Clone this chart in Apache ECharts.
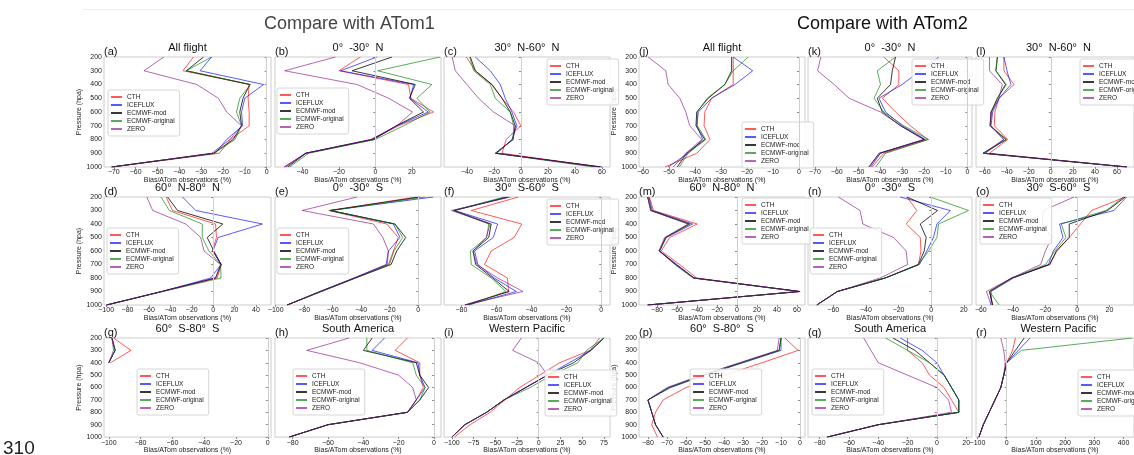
<!DOCTYPE html>
<html>
<head>
<meta charset="utf-8">
<script src="https://cdn.jsdelivr.net/npm/echarts@6/dist/echarts.min.js"></script>
<style>
  html, body { margin: 0; padding: 0; background: #fff; }
  #chart { width: 1134px; height: 455px; }
</style>
</head>
<body>
<div id="chart"></div>
<script>
// 气压层 (hPa)，每个面板的每条线都按这个顺序
var levels = [200, 300, 400, 500, 600, 700, 800, 900, 1000];
var seriesNames = ['CTH', 'ICEFLUX', 'ECMWF-mod', 'ECMWF-original', 'ZERO'];

// ---- ATom1 ----  每个数组的行顺序同 seriesNames
var biasA = [
  [-33.5, -38.3, -8, -8.5, -8, -8, -16.5, -21.7, -71],
  [-25.2, -30.5, -1.4, -10, -11.5, -11, -18.3, -23.6, -71],
  [-28.9, -36.8, -7.7, -10.8, -12.3, -11.5, -15.3, -24.4, -71],
  [-25.2, -36.8, -7.4, -12.3, -13.8, -11.5, -14.5, -24, -71],
  [-47.1, -56.2, -32, -22.1, -18.3, -11.5, -16.8, -25.2, -71]
];
var ticksA = [-70, -60, -50, -40, -30, -20, -10, 0];

var biasB = [
  [-8.2, -20, 18.2, 19.5, 31.9, 12.8, -2, -38, -50],
  [0.9, -19, 21, 19, 29, 11.8, -2, -38.5, -49],
  [9.1, -12.7, 21.9, 18.7, 26.4, 11.5, -1, -38, -48],
  [35.5, 1.3, 31, 22.8, 30, 15.5, 0, -36.5, -47],
  [-21.9, -49.7, -10, 7.3, 20.4, 11.8, -2.5, -38, -50]
];
var ticksB = [-40, -20, 0, 20];

var biasC = [
  [-40.5, -33.8, -21.5, -14, -5.5, 0, -10.9, -14, 58.7],
  [-33.8, -22.7, -15.3, -11.6, -6.7, -3, -6.7, -17.8, 57.5],
  [-37.5, -33.8, -21.5, -14, -7.9, -4.2, -5.9, -19, 60],
  [-38, -35, -22.7, -19, -7.9, -5.4, -5.9, -19, 53.8],
  [-51, -48.6, -40, -31.4, -20.3, -4.2, -5.9, -18.3, 58.7]
];
var ticksC = [-40, -20, 0, 20, 40, 60];

var biasD = [
  [-44, -38, 2.2, 3.1, -0.9, 7.7, 3.7, -48, -99.6],
  [-28.7, -16.3, 46, 4.6, -0.3, 7.4, -2.4, -48, -99.6],
  [-42.6, -33.3, 9, -5.6, 0.6, 7.4, 2.2, -48, -99.6],
  [-48.7, -41, -10.2, -10.2, -4, 6.8, 7.4, -47, -99.6],
  [-62, -56.5, -25.6, -11.7, -8.6, 6.8, 2.2, -48, -99.6]
];
var ticksD = [-100, -80, -60, -40, -20, 0, 20, 40];

var biasE = [
  [-1.2, -62.8, -22, -14, -17.4, -20.9, -44.6, -68.6, -91.8],
  [10.5, -61.6, -17.4, -12.8, -20.9, -22.5, -45, -69, -92],
  [1.2, -61.6, -16.3, -8.8, -15.1, -19, -44, -68, -92],
  [4.7, -61.6, -16.3, -10.9, -17, -20.2, -44, -68, -92],
  [-43, -81.4, -31.4, -24.8, -20.9, -21.7, -45, -69, -92]
];
var ticksE = [-100, -80, -60, -40, -20, 0];

var biasF = [
  [-47.5, -74.4, -45.5, -49.9, -63, -66.8, -53.7, -53, -77.2],
  [-54.2, -83.8, -59.3, -61.8, -72.5, -70.6, -61.2, -48.6, -76.3],
  [-53.1, -84.4, -63, -64.4, -73.4, -71.9, -62.1, -52.7, -78.1],
  [-55.5, -84.7, -64.4, -65.5, -74.9, -74.4, -63, -54.6, -75.7],
  [-51.8, -85.7, -63.6, -65.9, -73.4, -71.2, -59.3, -44.8, -78.1]
];
var ticksF = [-80, -60, -40, -20, 0];

var biasG = [
  [-97, -86, -99, null, null, null, null, null, null],
  [-98, -96, -100, null, null, null, null, null, null],
  [-98, -96, -100, null, null, null, null, null, null],
  [-98, -96, -100, null, null, null, null, null, null],
  [-98, -97, -100, null, null, null, null, null, null]
];
var ticksG = [-100, -80, -60, -40, -20, 0];

var biasH = [
  [-15, -22, -8, -8, -6, -10, -15, -60, -82],
  [-28, -35, -9, -8, -5, -10, -15, -60, -82],
  [-35, -40, -10, -8, -3, -8, -15, -60, -82],
  [-38, -38, -12, -10, -5, -8, -15, -60, -82],
  [-48, -72, -42, -20, -12, -10, -15, -60, -82]
];
var ticksH = [-80, -60, -40, -20, 0];

var biasI = [
  [70, 59, 24, 1, -22, -39, -56, -79, -97],
  [75, 60, 35, 10, -15, -40, -60, -85, -100],
  [75, 60, 40, 10, -15, -40, -60, -85, -100],
  [75, 55, 45, 15, -10, -40, -60, -85, -100],
  [-20, -30, 0, 10, -15, -40, -60, -85, -100]
];
var ticksI = [-100, -75, -50, -25, 0, 25, 50, 75];

// ---- ATom2 ----
var biasJ = [
  [-25.3, -25.3, -25.3, -33.6, -36.2, -36.5, -34.2, -39.3, -51.5],
  [-25.3, -17.8, -24.6, -33.6, -38.7, -39.3, -37, -42.6, -50.3],
  [-25.9, -25.9, -28.5, -34.9, -39.3, -39.6, -36.2, -43.2, -46.8],
  [-19.5, -25.3, -28.5, -35.3, -39.1, -39.1, -35.8, -42.6, -46],
  [-58, -51.2, -50.3, -45.8, -43.5, -42, -37.4, -43.5, -48.3]
];
var ticksJ = [-60, -50, -40, -30, -20, -10, 0];

var biasK = [
  [-38.4, -31.5, -31.5, -39.1, -33, -26.2, -18.3, -38.4, -43.7],
  [-13.2, -21.6, -30, -40.6, -37.6, -30, -19.3, -39.9, -44.4],
  [-33, -34.5, -35.3, -41.4, -39.1, -30.7, -19.8, -40.6, -45.2],
  [-33, -41.4, -39.9, -42.9, -38.4, -29.2, -17.8, -37.6, -42.1],
  [-67.3, -68.8, -61.2, -54.3, -39.9, -30.7, -20.1, -39.9, -45.2]
];
var ticksK = [-70, -60, -50, -40, -30, -20, -10, 0];

var biasL = [
  [-42.5, -42.5, -33.3, -46.9, -50.7, -51.2, -39, -55.6, 69],
  [-42.5, -39.7, -36.2, -46.9, -52.7, -54.2, -42.5, -59.4, 69],
  [-48.4, -49.8, -41.1, -48.4, -54.2, -55, -40.3, -61.4, 69],
  [-48.4, -49.8, -40.3, -48.4, -53.6, -55, -40.3, -60.5, 68],
  [-55.6, -55.6, -44, -46.9, -54.2, -55, -42.5, -61.4, 69]
];
var ticksL = [-60, -40, -20, 0, 20, 40, 60];

var biasM = [
  [-87.6, -83.5, -39.8, -67.4, -75.8, -57.3, -40.4, 63.2, -89.3],
  [-88.2, -84.8, -44.4, -70.7, -77.5, -60, -43.1, 62.6, -89.3],
  [-89.3, -85.9, -47.2, -71.4, -77.5, -61.3, -43.1, 62.6, -89.3],
  [-89.3, -85.9, -48, -71.4, -77.5, -62.3, -44.1, 61.2, -89.3],
  [-89.3, -86.5, -48.9, -72.4, -78.2, -61.3, -43.1, 62.6, -89.3]
];
var ticksM = [-80, -60, -40, -20, 0, 20, 40, 60];

var biasN = [
  [-14.9, -8.8, -15.3, -6.7, -6.3, -7.8, -28.2, -57.5, -70.1],
  [-19, 11.7, 3.5, 1.4, -2.7, -7.2, -28.2, -57.5, -70.1],
  [-14.9, 3.9, -6.7, -3.1, -4.3, -7.8, -28.2, -57.5, -70.1],
  [-0.6, 22.9, 4.5, 3.5, -1.6, -7.8, -28.2, -57.5, -70.1],
  [-56.9, -43.6, -41.9, -23.1, -15.3, -14.5, -31.3, -57.5, -70.1]
];
var ticksN = [-60, -40, -20, 0, 20];

var biasO = [
  [29.8, 8.9, 2, -5, -12.9, -16.9, -40.7, -54.6, -52.6],
  [30.7, 22.8, -11, -8.9, -14.9, -17.9, -39.7, -53.6, -53.6],
  [29.8, 18.8, -5, -5, -12.9, -17.3, -40.7, -54.6, -52.6],
  [28.8, 17.9, -9.9, -7, -13.9, -19.8, -40.7, -54.6, -48.6],
  [-2, -21.2, -21.8, -15.9, -19.8, -22.8, -40.7, -56.5, -53.6]
];
var ticksO = [-60, -40, -20, 0, 20];

var biasP = [
  [-8, -1, -20, -40, -60, -72, -76, -78, -75],
  [-10, -10, -30, -50, -68, -80, -78, -76, -72],
  [-10, -11, -31, -51, -69, -80, -78, -76, -72],
  [-10, -11, -31, -51, -69, -80, -78, -76, -72],
  [-11, -12, -32, -52, -70, -80, -78, -76, -72]
];
var ticksP = [-80, -70, -60, -50, -40, -30, -20, -10, 0];

var biasQ = [
  [-20, -20, -10, -5, 5, 10, 15, -40, -75],
  [-25, -10, 0, 5, 10, 15, 15, -40, -75],
  [-30, -15, -5, 5, 10, 15, 15, -40, -75],
  [-35, -20, -5, 5, 10, 15, 15, -40, -75],
  [-50, -45, -40, -20, 0, 8, 10, -40, -75]
];
var ticksQ = [-80, -60, -40, -20, 0, 20];

var biasR = [
  [30, 20, 0, -10, -20, -40, -60, -80, -95],
  [80, 40, 0, -10, -20, -40, -60, -80, -95],
  [60, 30, 0, -10, -20, -40, -60, -80, -95],
  [430, 50, 0, -10, -20, -40, -60, -80, -95],
  [-20, -10, -5, -10, -20, -40, -60, -80, -95]
];
var ticksR = [-100, 0, 100, 200, 300, 400];

// 面板布局
var colLeft = [104, 275, 444, 639, 808, 976];
var colWidth = [167, 166, 166, 166, 164, 165];
var rowTop = [57, 197, 338];
var rowHeight = [110, 108, 106];

var panels = [
  { tag: '(a)', title: 'All flight', bias: biasA, ticks: ticksA, range: [-74.5, 2], col: 0, row: 0, legend: [108, 90] },
  { tag: '(b)', title: '0\u00b0  -30\u00b0  N', bias: biasB, ticks: ticksB, range: [-55, 36], col: 1, row: 0, legend: [277, 88] },
  { tag: '(c)', title: '30\u00b0  N-60\u00b0  N', bias: biasC, ticks: ticksC, range: [-57, 66], col: 2, row: 0, legend: [547, 59] },
  { tag: '(d)', title: '60\u00b0  N-80\u00b0  N', bias: biasD, ticks: ticksD, range: [-102, 54], col: 0, row: 1, legend: [107, 228] },
  { tag: '(e)', title: '0\u00b0  -30\u00b0  S', bias: biasE, ticks: ticksE, range: [-100.5, 16], col: 1, row: 1, legend: [277, 228] },
  { tag: '(f)', title: '30\u00b0  S-60\u00b0  S', bias: biasF, ticks: ticksF, range: [-90, 5], col: 2, row: 1, legend: [547, 199] },
  { tag: '(g)', title: '60\u00b0  S-80\u00b0  S', bias: biasG, ticks: ticksG, range: [-103, 2], col: 0, row: 2, legend: [137, 369] },
  { tag: '(h)', title: 'South America', bias: biasH, ticks: ticksH, range: [-90, 4], col: 1, row: 2, legend: [293, 369] },
  { tag: '(i)', title: 'Western Pacific', bias: biasI, ticks: ticksI, range: [-109, 82], col: 2, row: 2, legend: [545, 370] },
  { tag: '(j)', title: 'All flight', bias: biasJ, ticks: ticksJ, range: [-61.5, 2.3], col: 3, row: 0, legend: [742, 122] },
  { tag: '(k)', title: '0\u00b0  -30\u00b0  N', bias: biasK, ticks: ticksK, range: [-73.2, 2.1], col: 4, row: 0, legend: [912, 59] },
  { tag: '(l)', title: '30\u00b0  N-60\u00b0  N', bias: biasL, ticks: ticksL, range: [-67.8, 75.4], col: 5, row: 0, legend: [1080, 59] },
  { tag: '(m)', title: '60\u00b0  N-80\u00b0  N', bias: biasM, ticks: ticksM, range: [-98, 68], col: 3, row: 1, legend: [742, 198] },
  { tag: '(n)', title: '0\u00b0  -30\u00b0  S', bias: biasN, ticks: ticksN, range: [-75.5, 25], col: 4, row: 1, legend: [810, 228] },
  { tag: '(o)', title: '30\u00b0  S-60\u00b0  S', bias: biasO, ticks: ticksO, range: [-63, 35.3], col: 5, row: 1, legend: [980, 198] },
  { tag: '(p)', title: '60\u00b0  S-80\u00b0  S', bias: biasP, ticks: ticksP, range: [-84.7, 2.6], col: 3, row: 2, legend: [690, 369] },
  { tag: '(q)', title: 'South America', bias: biasQ, ticks: ticksQ, range: [-88, 24], col: 4, row: 2, legend: [812, 369] },
  { tag: '(r)', title: 'Western Pacific', bias: biasR, ticks: ticksR, range: [-105, 436], col: 5, row: 2, legend: [1078, 370] }
];

var lineColors = ['rgba(255,0,0,0.65)', 'rgba(0,0,255,0.65)', 'rgba(0,0,0,0.78)', 'rgba(0,128,0,0.65)', 'rgba(128,0,128,0.6)'];
var FONT = '"Liberation Sans", Arial, sans-serif';

function minusFmt(v) { return v < 0 ? '\u2212' + (-v) : String(v); }

var grids = [], xAxes = [], yAxes = [], series = [], legends = [], texts = [];

panels.forEach(function (p, i) {
  var left = colLeft[p.col], top = rowTop[p.row], w = colWidth[p.col], h = rowHeight[p.row];
  var firstCol = p.col === 0 || p.col === 3;

  grids.push({ left: left, top: top, width: w, height: h, show: true, borderColor: '#cccccc', borderWidth: 1, backgroundColor: '#fff' });

  xAxes.push({
    type: 'value', gridIndex: i, min: p.range[0], max: p.range[1],
    name: 'Bias/ATom observations (%)', nameLocation: 'middle', nameGap: 8,
    nameTextStyle: { fontSize: 7, color: '#222', fontFamily: FONT },
    axisLine: { show: false }, splitLine: { show: false },
    axisTick: { show: true, length: 2, customValues: p.ticks, lineStyle: { color: '#888' } },
    axisLabel: { customValues: p.ticks, fontSize: 7, color: '#222', margin: 2, fontFamily: FONT, formatter: minusFmt }
  });

  yAxes.push({
    type: 'value', gridIndex: i, inverse: true, min: 200, max: 1000, interval: 100,
    name: firstCol ? 'Pressure (hpa)' : '', nameLocation: 'middle', nameGap: 17, nameRotate: 90,
    nameTextStyle: { fontSize: 7, color: '#222', fontFamily: FONT },
    axisLine: { show: false }, splitLine: { show: false },
    axisTick: { show: true, length: 2, lineStyle: { color: '#888' } },
    axisLabel: { show: firstCol, fontSize: 7, color: '#222', margin: 2, fontFamily: FONT, formatter: function (v) { return String(v); } }
  });

  p.bias.forEach(function (vals, k) {
    var s = {
      type: 'line', name: seriesNames[k], xAxisIndex: i, yAxisIndex: i,
      data: levels.map(function (lv, j) { return vals[j] == null ? ['-', lv] : [vals[j], lv]; }),
      showSymbol: false, silent: true, animation: false, clip: true,
      lineStyle: { width: 1, color: lineColors[k] }, itemStyle: { color: lineColors[k] }
    };
    if (k === 0) {
      s.markLine = {
        silent: true, symbol: ['none', 'none'], animation: false,
        label: { show: false }, lineStyle: { color: '#cfcfcf', width: 1, type: 'solid' },
        data: [{ xAxis: 0 }]
      };
    }
    series.push(s);
  });

  legends.push({
    left: p.legend[0], top: p.legend[1], orient: 'vertical', data: seriesNames, selectedMode: false,
    icon: 'rect', itemWidth: 11, itemHeight: 2, itemGap: 0,
    padding: [3, 5, 3, 3], borderColor: '#d6d6d6', borderWidth: 1, borderRadius: 2,
    backgroundColor: 'rgba(255,255,255,0.85)',
    textStyle: { fontSize: 6.5, lineHeight: 8, color: '#222', fontFamily: FONT }
  });

  texts.push({
    type: 'text', x: left + w / 2, y: top - 15,
    style: { text: p.title, fontSize: 11, fontFamily: FONT, fill: '#111', align: 'center', textAlign: 'center' }
  });
  texts.push({
    type: 'text', x: left, y: top - 11,
    style: { text: p.tag, fontSize: 11, fontFamily: FONT, fill: '#111' }
  });
});

texts.push({ type: 'line', shape: { x1: 83, y1: 9.5, x2: 1134, y2: 9.5 }, style: { stroke: '#ececec', lineWidth: 1 } });
texts.push({ type: 'text', x: 264, y: 15, style: { text: 'Compare with ATom1', fontSize: 18, fontFamily: FONT, fill: '#444' } });
texts.push({ type: 'text', x: 797, y: 15, style: { text: 'Compare with ATom2', fontSize: 18, fontFamily: FONT, fill: '#111' } });
texts.push({ type: 'text', x: 3, y: 439, style: { text: '310', fontSize: 19, fontFamily: FONT, fill: '#222' } });

var chart = echarts.init(document.getElementById('chart'), null, { renderer: 'canvas' });
chart.setOption({
  animation: false,
  backgroundColor: '#fff',
  grid: grids,
  xAxis: xAxes,
  yAxis: yAxes,
  legend: legends,
  series: series,
  graphic: { elements: texts }
});
</script>
</body>
</html>
